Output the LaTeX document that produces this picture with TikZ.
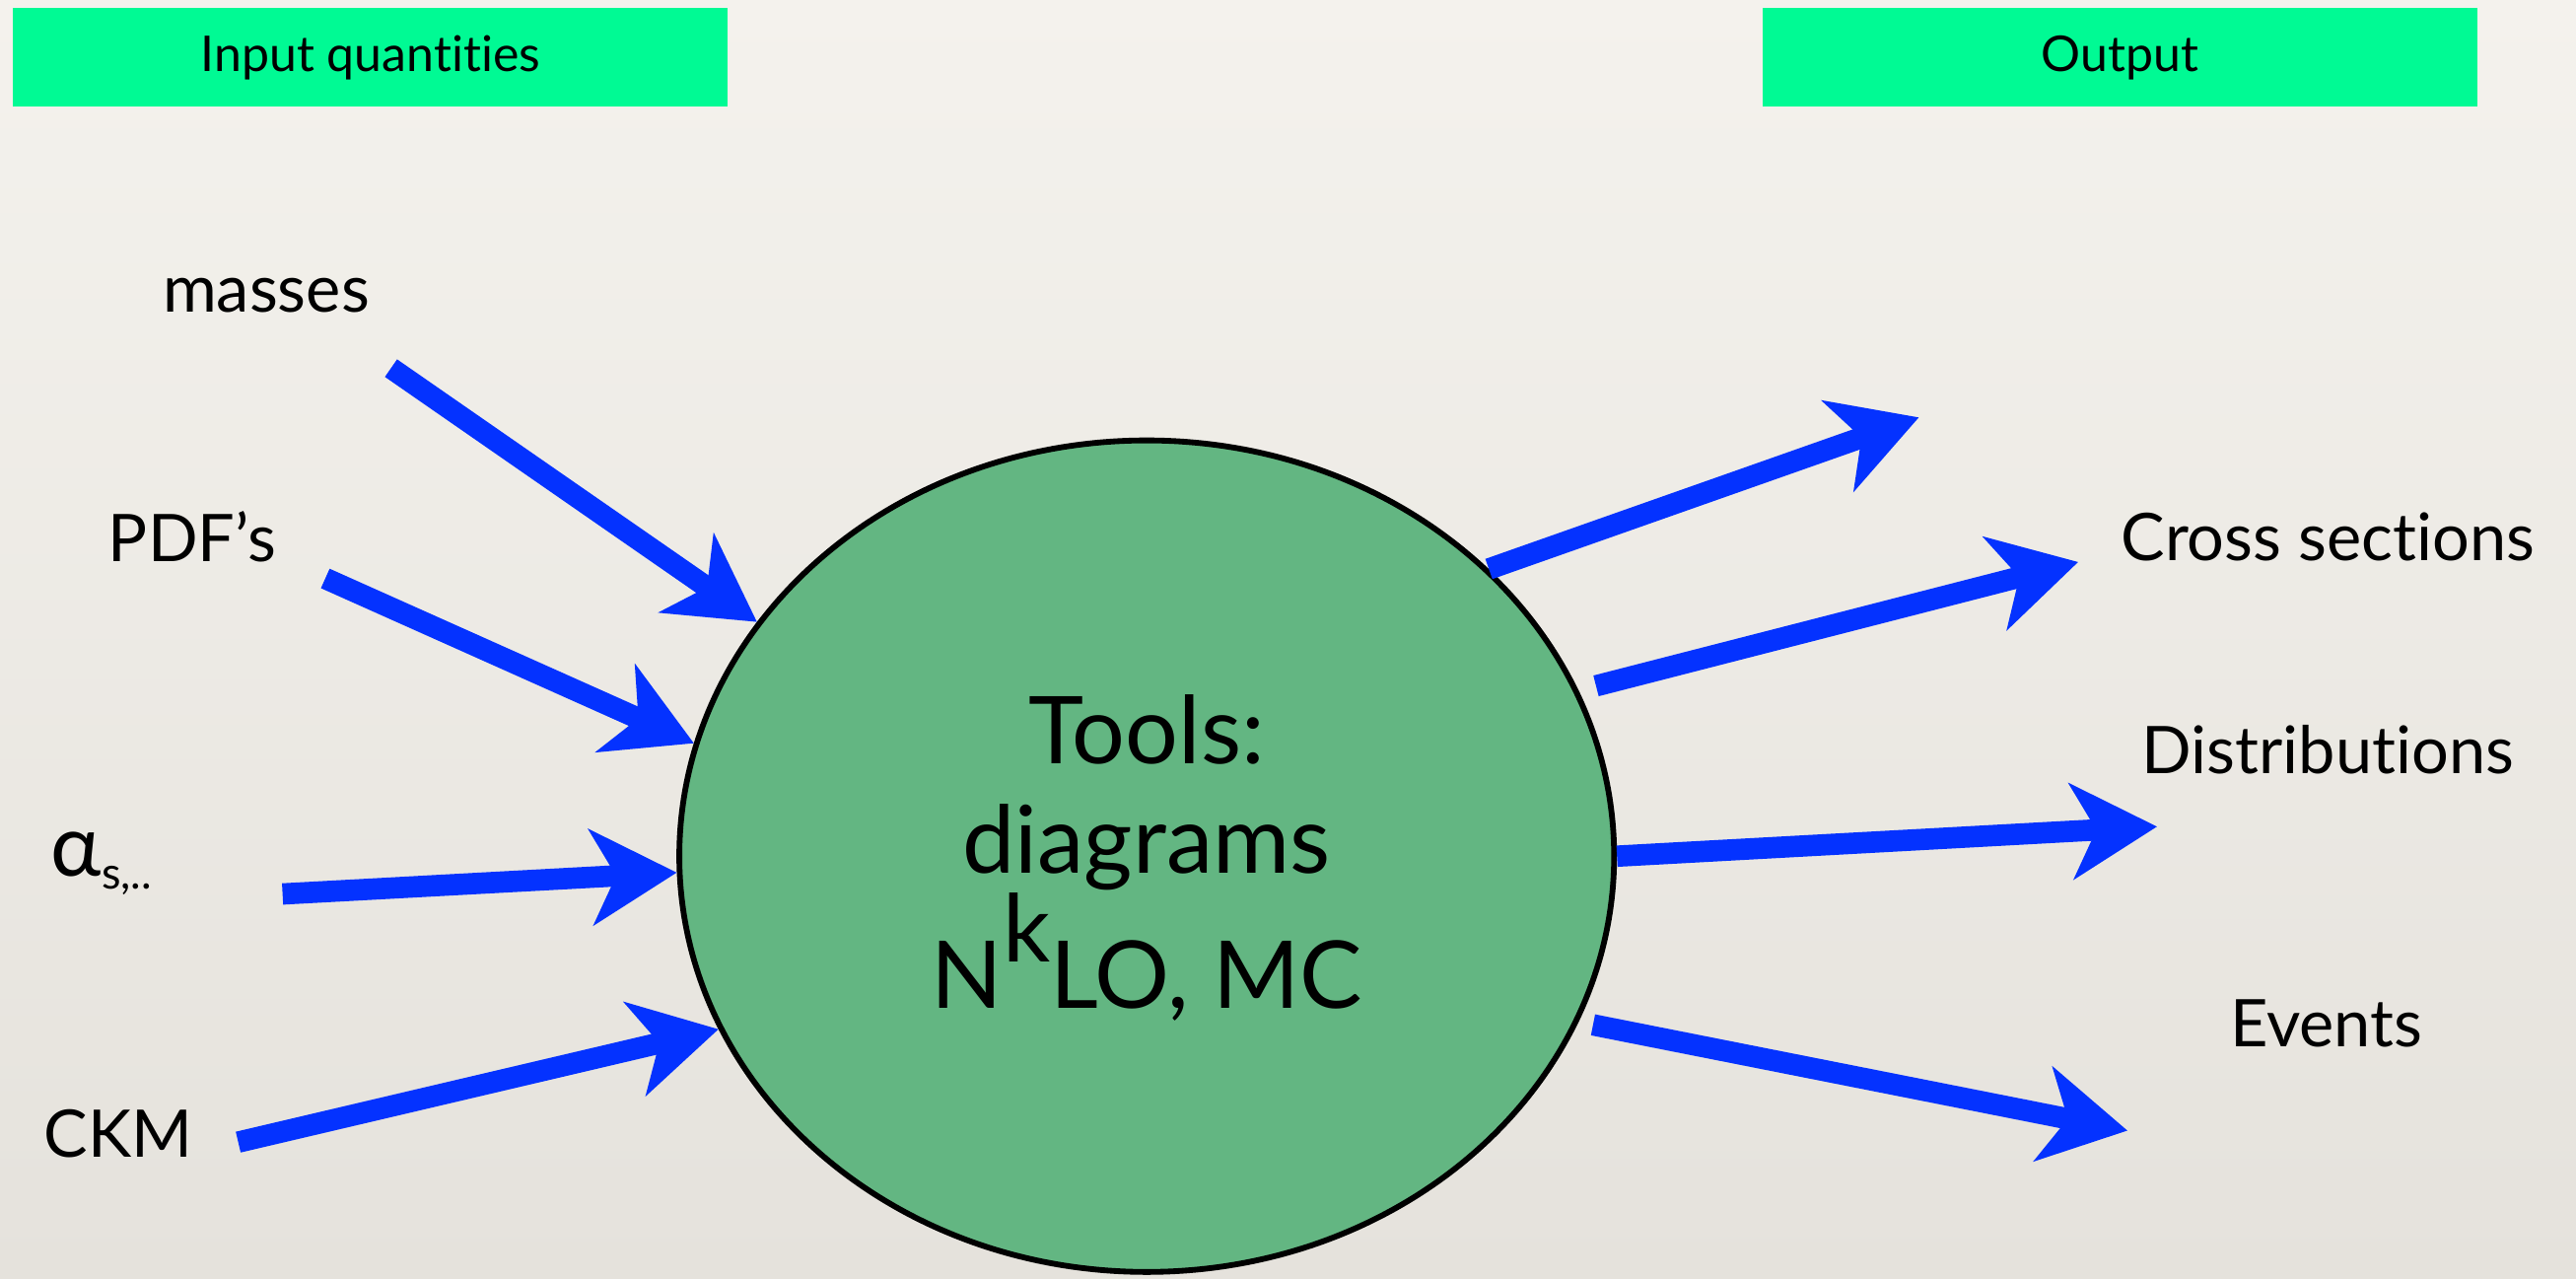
\documentclass[tikz,border=0pt]{standalone}
\usepackage{fontspec}
\setmainfont{Lato}[Ligatures=NoCommon]
\usepackage{tikz}
\usetikzlibrary{arrows.meta, shapes.geometric}

\definecolor{paperTop}{RGB}{244,242,237}
\definecolor{paperBottom}{RGB}{229,226,220}
\definecolor{headGreen}{RGB}{0,250,148}
\definecolor{toolGreen}{RGB}{99,182,130}
\definecolor{flowBlue}{RGB}{4,50,255}

\begin{document}
\begin{tikzpicture}[x=1pt, y=-1pt,
        headbox/.style={fill=headGreen, minimum width=435pt, minimum height=60pt, inner sep=0pt, font=\fontsize{30}{34}\selectfont},
        quantity/.style={anchor=base, inner sep=0pt, font=\fontsize{40}{44}\selectfont},
        flow/.style={flowBlue, line width=13pt, -{Stealth[length=52pt, width=58pt, inset=15pt]}}]
        \shade[top color=paperTop, bottom color=paperBottom] (0,0) rectangle (1568,778);
        \useasboundingbox (0,0) rectangle (1568,778);

        \node[headbox] (inbox) at (225.5,35) {Input quantities};
        \node[headbox] (outbox) at (1290.5,35) {Output};

        \node[draw, ellipse, line width=3.5pt, fill=toolGreen, minimum width=569pt, minimum height=506pt, inner sep=0pt] (tools) at (698,521) {};
        \node[align=center, font=\fontsize{57}{67}\selectfont] (toolstext) at (698,522) {Tools:\\ diagrams\\[15pt] N\smash{\raisebox{0.5em}{k}}LO, MC};

        % inputs
        \node[quantity] (masses) at (162,190) {masses};
        \node[quantity] (pdfs) at (117,342) {PDF’s};
        \node[quantity, anchor=base west] (alphas) at (31,533) {{\fontsize{52}{52}\selectfont α}\raisebox{-0.2em}{\fontsize{27}{27}\selectfont s,..}};
        \node[quantity] (ckm) at (72,704) {CKM};

        % outputs
        \node[quantity] (xsec) at (1417,341) {Cross sections};
        \node[quantity] (distr) at (1417,471) {Distributions};
        \node[quantity] (events) at (1416,637) {Events};

        \coordinate (in1) at (238,224);
        \coordinate (in2) at (198,352);
        \coordinate (in3) at (172,544);
        \coordinate (in4) at (145,695);
        \coordinate (out1) at (1168,254);
        \coordinate (out2) at (1265,342);
        \coordinate (out3) at (1313,503);
        \coordinate (out4) at (1295,688);

        \foreach \s/\a in {in1/149.7, in2/166.3, in3/182.8, in4/202.1} {
            \draw[flow] (\s) -- (tools.\a);
        }
        \foreach \a/\e/\g in {40.3/out1/0, 21.4/out2/11, 0.8/out3/0, 339.9/out4/9} {
            \draw[flow, shorten <=\g pt] (tools.\a) -- (\e);
        }
    \end{tikzpicture}
\end{document}
